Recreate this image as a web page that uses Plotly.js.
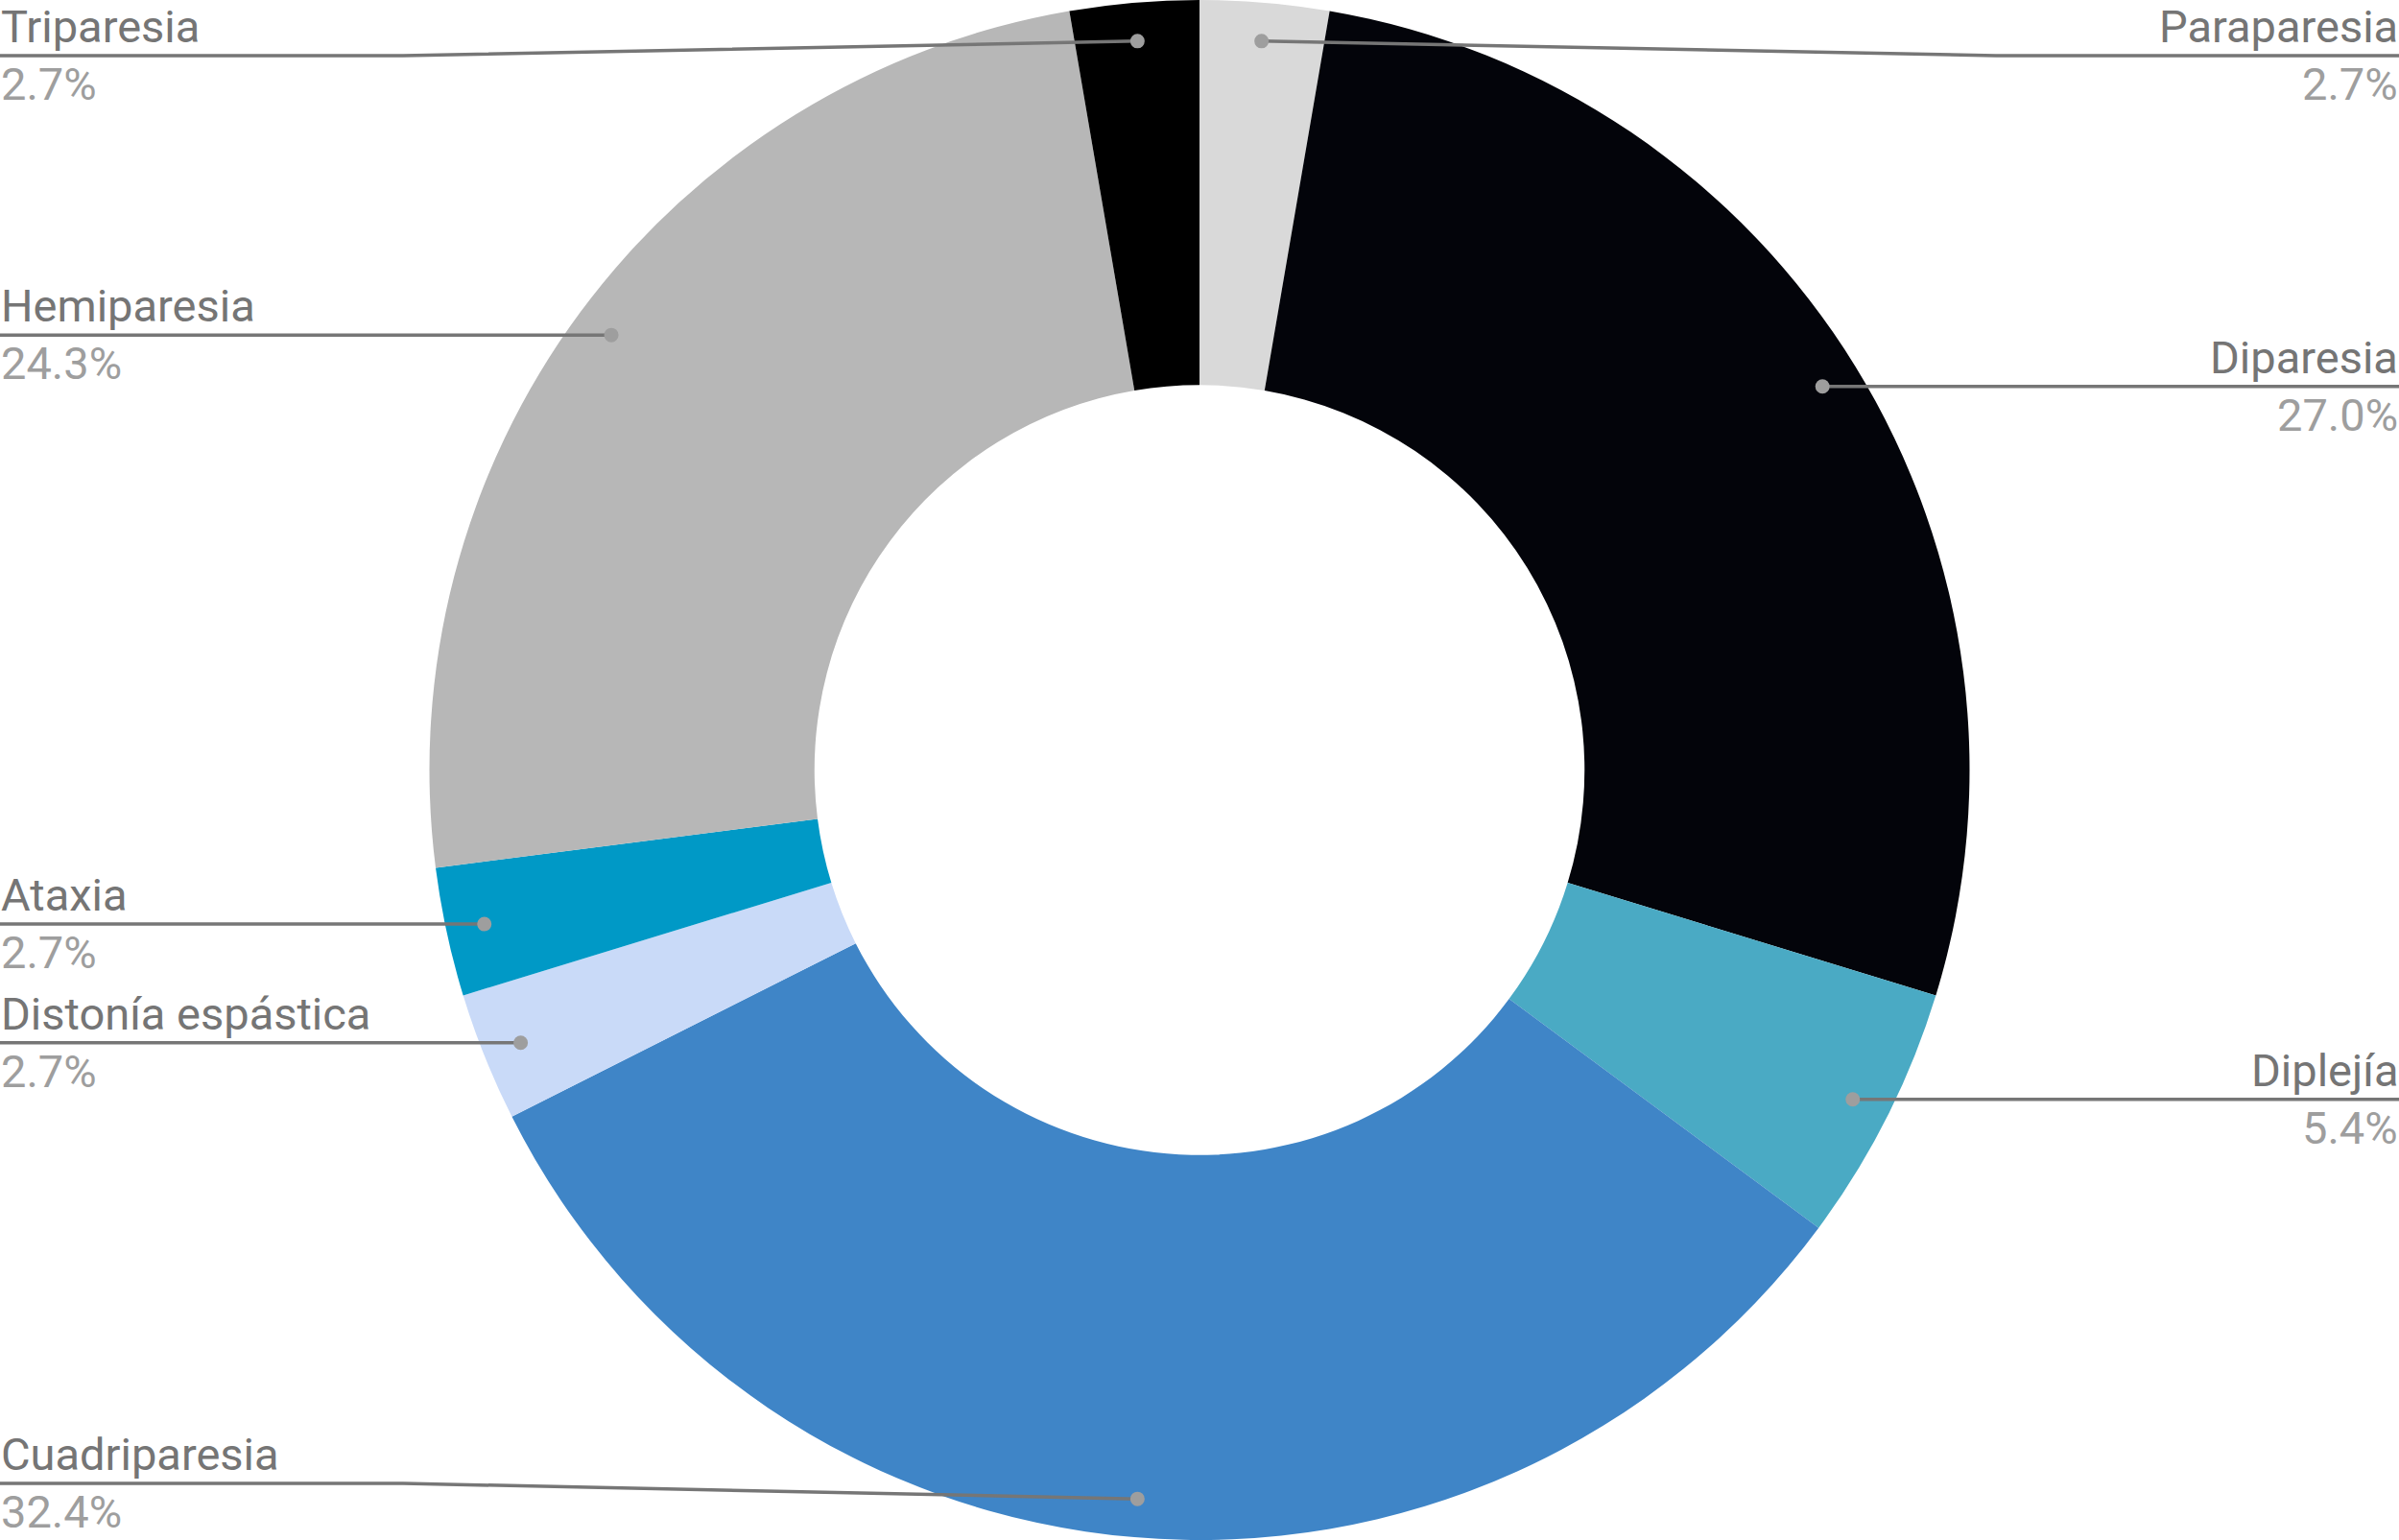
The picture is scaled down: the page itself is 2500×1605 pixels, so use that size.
<!DOCTYPE html>
<html>
<head>
<meta charset="utf-8">
<script src="https://cdn.plot.ly/plotly-3.0.1.min.js"></script>
<style>
  html, body { margin: 0; padding: 0; background: #fff; }
  #chart { width: 2500px; height: 1605px; }
</style>
</head>
<body>
<div id="chart"></div>
<script>
// --- DATA ---
const labels = ['Paraparesia', 'Diparesia', 'Diplejía', 'Cuadriparesia',
                'Distonía espástica', 'Ataxia', 'Hemiparesia', 'Triparesia'];
const counts = [1, 10, 2, 12, 1, 1, 9, 1];
const colors = ['#d9d9d9', '#03040a', '#4aaac4', '#3f85c7',
                '#c9daf8', '#0099c6', '#b7b7b7', '#000000'];

// --- LAYOUT CONSTANTS ---
const W = 2500, H = 1605;
const FONT = 'Roboto, "Open Sans", sans-serif';
const FONT_SIZE = 47;
const DOT_R = 0.95;      // dot radius as fraction of outer radius
const LABEL_MIN_Y = 58;  // keep label lines inside the canvas
const LABEL_MAX_Y = 1546;
const KINK = 420;        // length of flat part when the line has to bend

const total = counts.reduce((a, b) => a + b, 0);
const cx = W / 2, cy = H / 2, R = Math.min(W, H) / 2;

let shapes = [];
let annotations = [];
let cum = 0;

counts.forEach((c, i) => {
    // mid angle, clockwise from 12 o'clock
    let mid = (cum + c / 2) / total * 2 * Math.PI;
    cum += c;

    let dx = cx + DOT_R * R * Math.sin(mid);
    let dy = cy - DOT_R * R * Math.cos(mid);
    let right = Math.sin(mid) >= 0;
    let edge = right ? W : 0;
    let ly = Math.min(LABEL_MAX_Y, Math.max(LABEL_MIN_Y, dy));

    let path;
    if (Math.abs(ly - dy) < 1) {
        path = `M${dx},${dy} L${edge},${ly}`;
    } else {
        let kx = right ? W - KINK : KINK;
        path = `M${dx},${dy} L${kx},${ly} L${edge},${ly}`;
    }
    shapes.push({
        type: 'path', xref: 'x', yref: 'y', path: path, layer: 'above',
        line: { color: '#767676', width: 3.5 }
    });
    shapes.push({
        type: 'circle', xref: 'x', yref: 'y', layer: 'above',
        x0: dx - 7.5, x1: dx + 7.5, y0: dy - 7.5, y1: dy + 7.5,
        fillcolor: '#9e9e9e', line: { width: 0 }
    });

    let pct = (c / total * 100).toFixed(1) + '%';
    annotations.push({
        xref: 'x', yref: 'y', x: edge, y: ly - 2, showarrow: false,
        xanchor: right ? 'right' : 'left', yanchor: 'bottom',
        text: labels[i], borderpad: 0,
        font: { family: FONT, size: FONT_SIZE, color: '#757575' }
    });
    annotations.push({
        xref: 'x', yref: 'y', x: edge, y: ly + 1, showarrow: false,
        xanchor: right ? 'right' : 'left', yanchor: 'top',
        text: pct, borderpad: 0,
        font: { family: FONT, size: FONT_SIZE, color: '#9e9e9e' }
    });
});

let pie = {
    type: 'pie',
    labels: labels,
    values: counts,
    marker: { colors: colors, line: { width: 0 } },
    hole: 0.5,
    sort: false,
    direction: 'clockwise',
    rotation: 0,
    textinfo: 'none',
    hoverinfo: 'label+percent',
    showlegend: false,
    domain: { x: [0, 1], y: [0, 1] }
};

// empty trace so the pixel axes exist for shapes / annotations
let anchor = { type: 'scatter', x: [], y: [], hoverinfo: 'skip', showlegend: false };

let layout = {
    width: W, height: H,
    margin: { l: 0, r: 0, t: 0, b: 0, pad: 0 },
    paper_bgcolor: '#ffffff',
    plot_bgcolor: 'rgba(0,0,0,0)',
    showlegend: false,
    xaxis: { range: [0, W], visible: false, fixedrange: true },
    yaxis: { range: [H, 0], visible: false, fixedrange: true },
    shapes: shapes,
    annotations: annotations
};

Plotly.newPlot('chart', [anchor, pie], layout, { displayModeBar: false, staticPlot: true });
</script>
</body>
</html>
